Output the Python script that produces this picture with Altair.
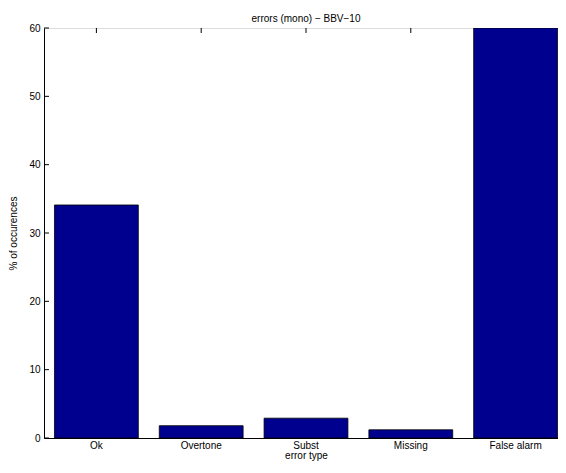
import altair as alt
import pandas as pd

categories = ["Ok", "Overtone", "Subst", "Missing", "False alarm"]
values = [34.1, 1.8, 2.9, 1.2, 60.0]
yticks = [0, 10, 20, 30, 40, 50, 60]

W, H = 524, 410
FONT = "Liberation Sans"

bars_df = pd.DataFrame({"cat": categories, "val": values})
ticks_df = pd.DataFrame({"val": yticks})

xscale = alt.Scale(domain=categories, paddingInner=0.2, paddingOuter=0.1)
yscale = alt.Scale(domain=[0, 60], nice=False, zero=True)

x_enc = alt.X("cat:N", sort=categories, scale=xscale,
              axis=alt.Axis(title="error type", labelAngle=0, labelAlign="center",
                            labelBaseline="top", ticks=False,
                            labelPadding=2, titlePadding=0, domainColor="black",
                            labelFont=FONT, titleFont=FONT, labelFontSize=10,
                            titleFontSize=10, titleFontWeight="normal",
                            labelColor="black", titleColor="black"))
y_enc = alt.Y("val:Q", scale=yscale,
              axis=alt.Axis(title="% of occurences", values=yticks, ticks=False,
                            grid=False, labelPadding=4, titlePadding=10,
                            domainColor="black", labelFont=FONT, titleFont=FONT,
                            labelFontSize=10, titleFontSize=10,
                            titleFontWeight="normal", labelColor="black",
                            titleColor="black"))

bars = alt.Chart(bars_df).mark_bar(color="#00008F", stroke="black",
                                   strokeWidth=0.8, clip=True).encode(x=x_enc, y=y_enc)

left_ticks = alt.Chart(ticks_df).mark_rule(color="black", strokeWidth=1).encode(
    y=alt.Y("val:Q", scale=yscale), x=alt.value(0), x2=alt.value(5))
right_ticks = alt.Chart(ticks_df).mark_rule(color="black", strokeWidth=1).encode(
    y=alt.Y("val:Q", scale=yscale), x=alt.value(W - 5), x2=alt.value(W))
top_ticks = alt.Chart(bars_df).mark_rule(color="black", strokeWidth=1).encode(
    x=alt.X("cat:N", sort=categories, scale=xscale), y=alt.value(0), y2=alt.value(5))

chart = alt.layer(left_ticks, right_ticks, top_ticks, bars).properties(
    width=W, height=H,
    title=alt.TitleParams("errors (mono) − BBV−10", font=FONT, fontSize=10,
                          fontWeight="normal", color="black", offset=5, dy=6,
                          frame="group"),
    autosize=alt.AutoSizeParams(type="none"),
    padding={"left": 36, "top": 20, "right": -10, "bottom": 23},
).configure_view(stroke="black", strokeWidth=1).configure(background="white")

chart.save("out.html", embed_options={"renderer": "svg", "actions": False})
